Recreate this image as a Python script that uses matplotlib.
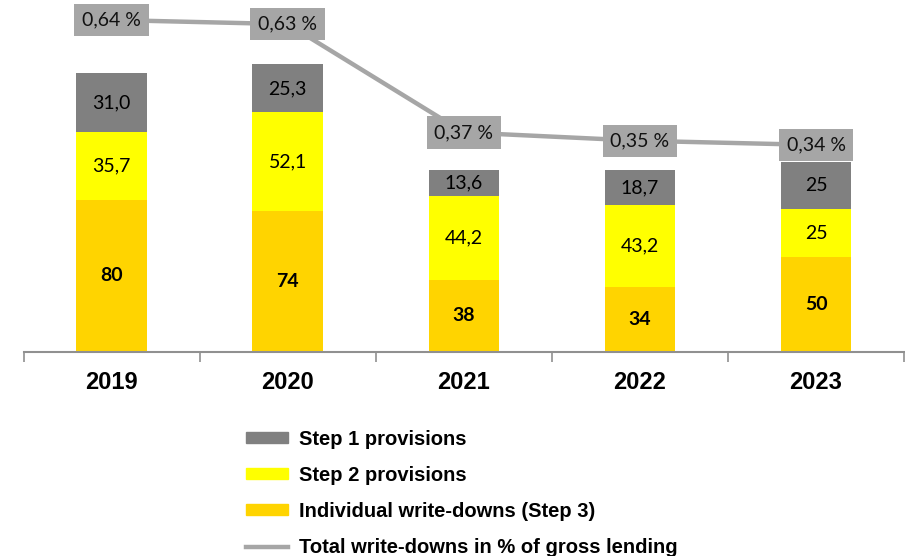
import numpy as np
import matplotlib.pyplot as plt
from matplotlib.patches import Patch
from matplotlib.lines import Line2D

# data
years = ['2019', '2020', '2021', '2022', '2023']
step3 = [80, 74, 38, 34, 50]
step2 = [35.7, 52.1, 44.2, 43.2, 25]
step1 = [31.0, 25.3, 13.6, 18.7, 25]
step3_lbl = ['80', '74', '38', '34', '50']
step2_lbl = ['35,7', '52,1', '44,2', '43,2', '25']
step1_lbl = ['31,0', '25,3', '13,6', '18,7', '25']
pct = [0.64, 0.63, 0.37, 0.35, 0.34]
pct_lbl = ['0,64 %', '0,63 %', '0,37 %', '0,35 %', '0,34 %']

gold = '#FFD400'
yellow = '#FFFF00'
grey = '#808080'
lgrey = '#A6A6A6'
lbl_font = 'Lato'

fig = plt.figure(figsize=(9.05, 5.56), dpi=100)
ax = fig.add_axes([0.026, 0.367, 0.973, 0.633])
x = np.arange(len(years))
w = 0.40

ax.bar(x, step3, w, color=gold)
ax.bar(x, step2, w, bottom=step3, color=yellow)
bot1 = np.array(step3) + np.array(step2)
ax.bar(x, step1, w, bottom=bot1, color=grey)

for i in range(len(x)):
    ax.text(x[i], step3[i] / 2, step3_lbl[i], ha='center', va='center',
            fontsize=14, fontweight='bold', family=lbl_font)
    ax.text(x[i], step3[i] + step2[i] / 2, step2_lbl[i], ha='center', va='center',
            fontsize=14, family=lbl_font)
    ax.text(x[i], bot1[i] + step1[i] / 2, step1_lbl[i], ha='center', va='center',
            fontsize=14, family=lbl_font)

ax.set_xlim(-0.5, len(x) - 0.5)
ax.set_ylim(0, 185.3)
ax.set_yticks([])
for s in ['top', 'right', 'left']:
    ax.spines[s].set_visible(False)
ax.spines['bottom'].set_color('#909090')
ax.spines['bottom'].set_linewidth(1.5)
ax.set_xticks(np.arange(-0.5, len(x)))
ax.set_xticklabels([])
ax.tick_params(axis='x', length=7, color='#909090', width=1.2)
for i, y in enumerate(years):
    ax.text(x[i], -16, y, ha='center', va='center', fontsize=17,
            fontweight='bold', family='Liberation Sans')

# secondary axis for the percentage line
ax2 = ax.twinx()
ax2.set_ylim(-0.157, 0.688)
ax2.plot(x, pct, color=lgrey, lw=3.2, solid_capstyle='butt', zorder=2)
for i in range(len(x)):
    ax2.text(x[i], pct[i], pct_lbl[i], ha='center', va='center', fontsize=14,
             family=lbl_font, color='#111111',
             bbox=dict(boxstyle='square,pad=0.4', fc=lgrey, ec='none'), zorder=3)
ax2.axis('off')

handles = [Patch(color=grey), Patch(color=yellow), Patch(color=gold),
           Line2D([], [], color=lgrey, lw=3.2)]
labels = ['Step 1 provisions', 'Step 2 provisions',
          'Individual write-downs (Step 3)', 'Total write-downs in % of gross lending']
fig.legend(handles, labels, loc='upper left', bbox_to_anchor=(0.272, 0.227),
           frameon=False, prop={'family': 'Liberation Sans', 'weight': 'bold', 'size': 14.5},
           handlelength=2.1, handleheight=0.45, labelspacing=0.85, handletextpad=0.5,
           borderpad=0, borderaxespad=0)

fig.savefig('out.png', dpi=100)
